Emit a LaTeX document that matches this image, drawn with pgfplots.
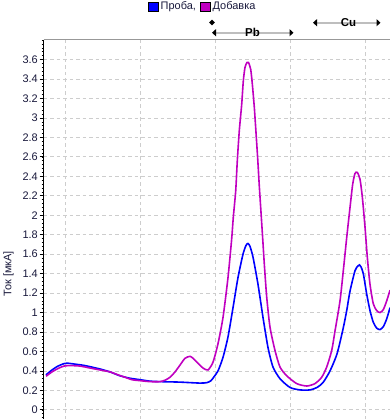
\documentclass[border=0pt]{standalone}
\usepackage{pgfplots}
\pgfplotsset{compat=1.18}
\usepackage{fontspec}
\setmainfont{Liberation Sans}
\usetikzlibrary{arrows.meta,shapes.geometric}
\definecolor{cblue}{RGB}{0,0,255}
\definecolor{cmag}{RGB}{192,0,192}
\definecolor{txt}{RGB}{25,25,60}
\definecolor{gridc}{RGB}{205,205,205}
\definecolor{barc}{RGB}{190,190,190}

\begin{document}
\begin{tikzpicture}[x=1bp,y=1bp,font=\fontsize{11}{13}\selectfont]
\useasboundingbox (0,0) rectangle (390,419);
\begin{axis}[
  name=ax,
  at={(43.5,389.7)}, anchor=north west,
  scale only axis, width=351.5bp, height=399.2bp,
  xmin=43.5, xmax=395, ymin=-0.3, ymax=3.803,
  axis line style={draw=none},
  xtick={65.7,140.7,215.3,290,365.7}, xticklabel=\empty,
  major x tick style={draw=none},
  ytick={-0.2,0,0.2,0.4,0.6,0.8,1,1.2,1.4,1.6,1.8,2,2.2,2.4,2.6,2.8,3,3.2,3.4,3.6},
  minor ytick={-0.28,-0.24,...,3.80},
  ytick pos=left, tick align=outside,
  major tick length=4bp, minor tick length=2bp,
  tick style={black, line width=0.8bp},
  minor y tick style={black, line width=0.7bp},
  xmajorgrids, ymajorgrids,
  major grid style={gridc, dash pattern=on 3.5bp off 3bp, line width=0.8bp},
  tick label style={font=\fontsize{11}{13}\selectfont, text=txt},
  yticklabel style={inner sep=1.5bp},
  /pgf/number format/assume math mode=true,
]
\addplot[cblue, line width=1.6bp, smooth, tension=0.4] coordinates {
(46,0.36)(52,0.41)(58,0.45)(64,0.475)(67,0.48)(75,0.47)(85,0.455)(100,0.42)
(110,0.39)(120,0.35)(130,0.325)(140,0.31)(150,0.295)(160,0.29)(180,0.285)
(200,0.275)(207,0.28)(211,0.30)(214,0.34)(218,0.40)(223,0.54)(228,0.75)
(233,1.05)(238,1.36)(243,1.60)(246,1.69)(248,1.71)(250,1.68)(253,1.57)
(258,1.29)(263,0.95)(268,0.64)(273,0.44)(280,0.32)(290,0.23)(300,0.205)
(310,0.205)(317,0.23)(323,0.28)(330,0.40)(337,0.575)(343,0.83)(346.7,1.02)
(350,1.22)(355,1.43)(358,1.48)(359.5,1.49)(361,1.47)(363.3,1.40)(366.7,1.19)
(370,1.02)(373.3,0.90)(376.7,0.84)(380,0.825)(383.3,0.855)(386.7,0.935)(390,1.05)
};
\addplot[cmag, line width=1.6bp, smooth, tension=0.4] coordinates {
(46,0.345)(52,0.39)(58,0.425)(64,0.45)(70,0.455)(80,0.45)(90,0.43)(100,0.41)
(110,0.39)(118,0.36)(125,0.335)(132,0.31)(140,0.30)(150,0.29)(160,0.29)
(165,0.305)(170,0.335)(175,0.39)(180,0.46)(185,0.53)(190,0.55)(193,0.53)
(197,0.49)(203,0.43)(208,0.41)(213,0.49)(218,0.68)(223,0.95)(228,1.36)
(231.7,1.76)(233.3,1.98)(235.7,2.25)(237.3,2.56)(239.3,2.87)(241.7,3.14)
(243.3,3.38)(245,3.52)(247,3.57)(248.5,3.57)(250.7,3.50)(252.3,3.35)
(254.3,3.11)(256,2.85)(257.7,2.58)(259.3,2.30)(261,2.03)(262.7,1.76)
(264.3,1.50)(266.7,1.16)(270,0.85)(275,0.61)(280,0.44)(286.7,0.35)
(296.7,0.27)(306.7,0.245)(315,0.27)(321.7,0.335)(326.7,0.44)(331.7,0.61)
(335,0.81)(340,1.12)(343.3,1.43)(346.7,1.77)(350,2.08)(352.7,2.32)(355,2.43)
(357.3,2.44)(360,2.37)(362.3,2.19)(365,1.88)(367.3,1.57)(370,1.29)
(373.3,1.09)(376.7,1.02)(380,1.00)(383.3,1.03)(386.7,1.12)(390,1.23)
};
\end{axis}
\draw[barc!80!black, line width=1bp] (ax.north west) -- (ax.north east);
\draw[black, line width=1.3bp] (ax.north west) -- (ax.south west);
% y label
\node[rotate=90, text=txt] at (8.5,145) {Ток [мкА]};
% legend
\draw[fill=cblue, draw=black, line width=0.6bp] (148.5,408) rectangle (158,416.5);
\node[anchor=west, text=txt, inner sep=0] at (160.5,412.3) {Проба,};
\draw[fill=cmag, draw=black, line width=0.6bp] (200.5,408) rectangle (210,416.5);
\node[anchor=west, text=txt, inner sep=0] at (212.5,412.3) {Добавка};
% annotations
\node[diamond, fill=black, inner sep=0, minimum size=6bp] at (212,396.5) {};
\draw[barc, line width=2.3bp, {Triangle[length=4bp,width=7bp,black]}-{Triangle[length=4bp,width=7bp,black]}] (212,386.3) -- (293.5,386.3);
\node[font=\fontsize{11.5}{13}\selectfont\bfseries, inner sep=0] at (252.5,386.3) {Pb};
\draw[barc, line width=2.3bp, {Triangle[length=4bp,width=7bp,black]}-{Triangle[length=4bp,width=7bp,black]}] (313,396.3) -- (380.5,396.3);
\node[font=\fontsize{11.5}{13}\selectfont\bfseries, inner sep=0] at (348.5,396.3) {Cu};
\end{tikzpicture}
\end{document}
